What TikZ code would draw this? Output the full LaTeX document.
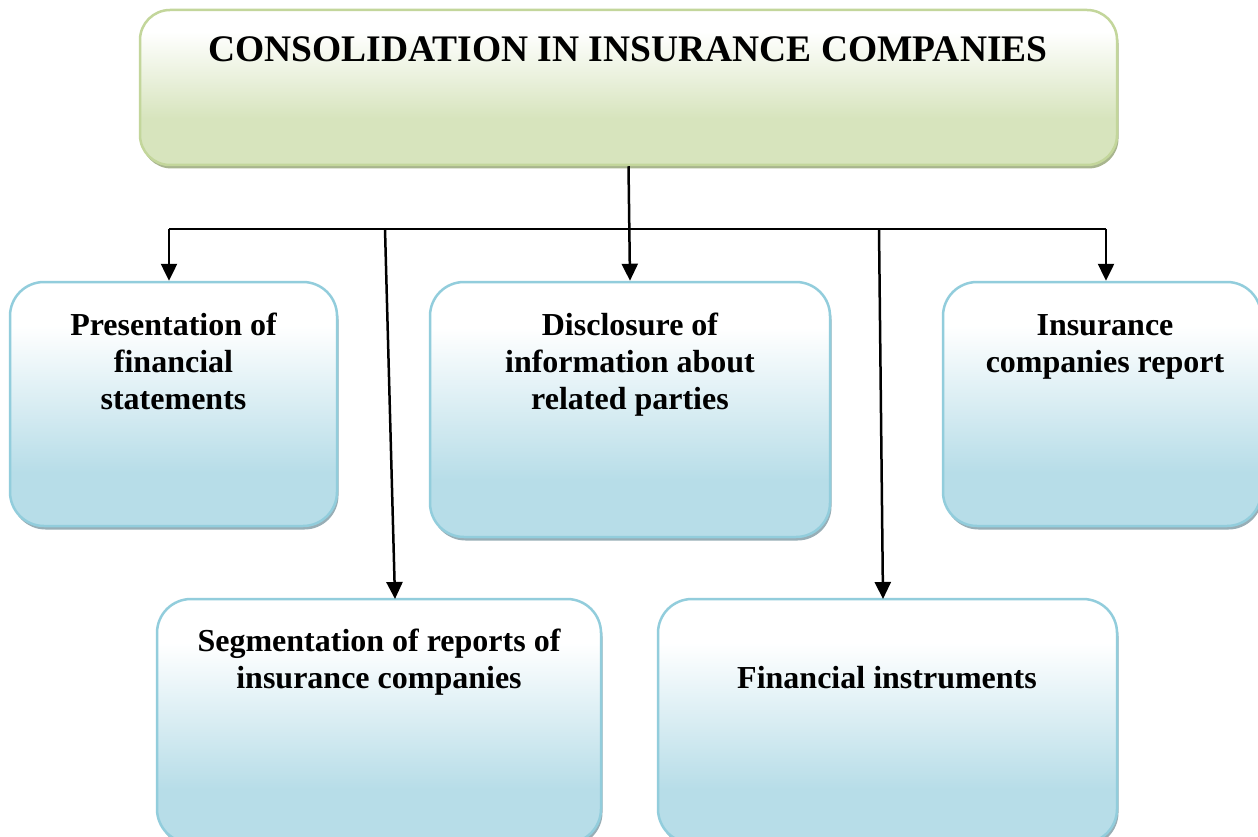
\documentclass[tikz,border=0pt]{standalone}
\usepackage{fontspec}
\setmainfont{Liberation Serif}
\usetikzlibrary{shadows,arrows.meta,calc}
\definecolor{bluefill}{HTML}{B7DDE8}
\definecolor{blueline}{HTML}{92CDDC}
\definecolor{blueshadow}{HTML}{98AEB6}
\definecolor{greenfill}{HTML}{D7E4BD}
\definecolor{greenline}{HTML}{C3D69B}
\definecolor{greenshadow}{HTML}{A8B58E}
\pgfdeclareverticalshading{blueshade}{100bp}{color(0bp)=(bluefill); color(25bp)=(bluefill); color(36bp)=(bluefill); color(66bp)=(white); color(75bp)=(white); color(100bp)=(white)}
\pgfdeclareverticalshading{greenshade}{100bp}{color(0bp)=(greenfill); color(25bp)=(greenfill); color(40bp)=(greenfill); color(68bp)=(white); color(75bp)=(white); color(100bp)=(white)}
\tikzset{
  bbox/.style={rectangle, rounded corners=34pt, draw=blueline, line width=2.5pt,
    shading=blueshade, shade, inner sep=0pt,
    drop shadow={shadow xshift=1.5pt, shadow yshift=-3.5pt, fill=blueshadow, opacity=1}},
  tbox/.style={rectangle, rounded corners=30pt, draw=greenline, line width=2.5pt,
    shading=greenshade, shade, inner sep=0pt,
    drop shadow={shadow xshift=1.5pt, shadow yshift=-3.5pt, fill=greenshadow, opacity=1}},
  lbl/.style={align=center, inner sep=0pt, font=\fontsize{32}{37}\selectfont\bfseries},
  ttl/.style={inner sep=0pt, font=\fontsize{37.5}{43}\selectfont\bfseries},
  con/.style={line width=2.5pt, draw=black},
  arr/.style={con, -{Triangle[length=17pt,width=16pt]}}
}
\begin{document}
\begin{tikzpicture}[x=1pt,y=-1pt]
\clip (0,0) rectangle (1258,837);
\fill[white] (0,0) rectangle (1258,837);
% boxes
\node[tbox, minimum width=977pt, minimum height=155pt] (title) at (628.5,87.5) {};
\node[bbox, minimum width=327pt, minimum height=244pt] (b1) at (173.5,404) {};
\node[bbox, minimum width=400pt, minimum height=255pt] (b2) at (630,409.5) {};
\node[bbox, minimum width=318pt, minimum height=244pt] (b3) at (1102,404) {};
\node[bbox, minimum width=444pt, minimum height=244pt] (b4) at (379,721) {};
\node[bbox, minimum width=459pt, minimum height=244pt] (b5) at (887.5,721) {};
% texts (base anchor = baseline of the last line)
\node[ttl, anchor=base] (tt) at (628,62) {CONSOLIDATION IN INSURANCE COMPANIES};
\node[lbl, anchor=base] (t1) at (173.5,409) {Presentation of\\financial\\statements};
\node[lbl, anchor=base] (t2) at (630,409) {Disclosure of\\information about\\related parties};
\node[lbl, anchor=base] (t3) at (1105,372) {Insurance\\companies report};
\node[lbl, anchor=base] (t4) at (379,688) {Segmentation of reports of\\insurance companies};
\node[lbl, anchor=base] (t5) at (887,688) {Financial instruments};
% connectors
\coordinate (busL) at (169,229);
\coordinate (busR) at (1106,229);
\coordinate (j1) at (385,229);
\coordinate (j2) at (879,229);
\coordinate (e4) at (395,599);
\coordinate (e5) at (883,599);
\draw[con] (busL) -- (busR);
\draw[arr] (title.south) -- (b2.north);
\draw[arr] (busL) -- (busL |- b1.north);
\draw[arr] (busR) -- (busR |- b3.north);
\draw[arr] (j1) -- (e4);
\draw[arr] (j2) -- (e5);
\end{tikzpicture}
\end{document}
